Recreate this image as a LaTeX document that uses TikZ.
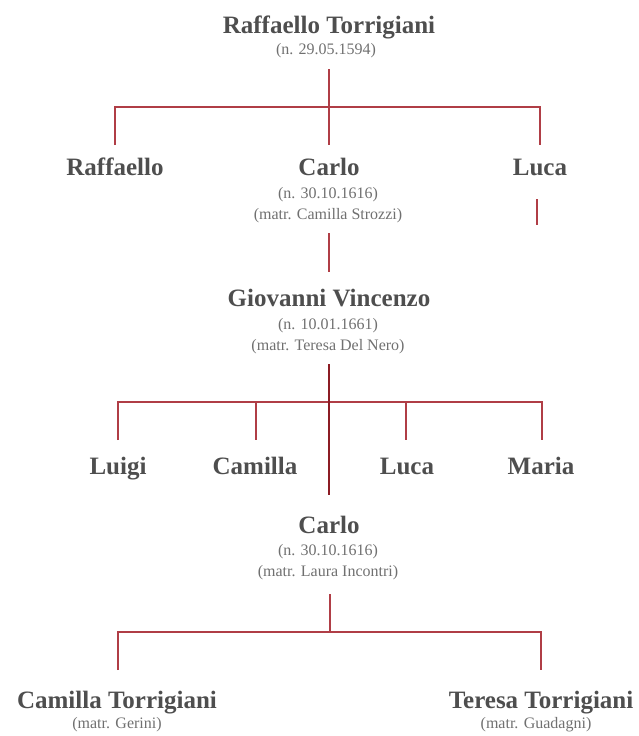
\documentclass[tikz,border=0pt]{standalone}
\usepackage{fontspec}
\setmainfont{Liberation Serif}
\usepackage{xcolor}
\usepackage{tikz}
\usetikzlibrary{positioning}

\definecolor{txtgray}{RGB}{78,78,78}
\definecolor{subgray}{RGB}{112,112,112}
\definecolor{linkred}{RGB}{176,62,70}
\definecolor{trunkred}{RGB}{140,28,36}

\begin{document}
\begin{tikzpicture}[
      x = 1pt, y = -1pt,
      person/.style = {font = \fontsize{25}{29}\selectfont\bfseries, text = txtgray,
                       anchor = base, inner sep = 0pt},
      info/.style   = {font = \fontsize{16}{19}\selectfont, text = subgray,
                       anchor = base, inner sep = 0pt},
      link/.style   = {draw = linkred, line width = 1.1pt},
      trunk/.style  = {draw = trunkred, line width = 1.1pt}
    ]
  \useasboundingbox (0,0) rectangle (638,736);

  % generation 1 ----------------------------------------------------------
  \node[person] (raffT) at (329,33) {Raffaello Torrigiani};
  \node[info] (raffTn) at (326,54) {(n. 29.05.1594)};

  \coordinate (g1top) at (329,69);
  \coordinate (g1bar) at (329,107);
  \coordinate (g1l)   at (115,107);
  \coordinate (g1r)   at (540,107);
  \coordinate (g1ld)  at (115,145);
  \coordinate (g1md)  at (329,145);
  \coordinate (g1rd)  at (540,145);
  \draw[link] (g1top) -- (g1md);
  \draw[link] (g1ld) -- (g1l) -- (g1r) -- (g1rd);

  % generation 2 ----------------------------------------------------------
  \node[person] (raff) at (115,175) {Raffaello};
  \node[person] (carlo) at (329,175) {Carlo};
    \node[info] (carlon) at (328,198) {(n. 30.10.1616)};
    \node[info] (carlom) at (328,219) {(matr. Camilla Strozzi)};
  \node[person] (luca) at (540,175) {Luca};

  \coordinate (lucatop) at (537,199);
  \coordinate (lucabot) at (537,225);
  \draw[link] (lucatop) -- (lucabot);

  \coordinate (g2top) at (329,233);
  \coordinate (g2bot) at (329,272);
  \draw[link] (g2top) -- (g2bot);

  % generation 3 ----------------------------------------------------------
  \node[person] (giov) at (329,306) {Giovanni Vincenzo};
    \node[info] (giovn) at (328,329) {(n. 10.01.1661)};
    \node[info] (giovm) at (328,350) {(matr. Teresa Del Nero)};

  \coordinate (g3l)  at (118,402);
  \coordinate (g3r)  at (542,402);
  \coordinate (g3ld) at (118,440);
  \coordinate (g3a)  at (256,402);
  \coordinate (g3ad) at (256,440);
  \coordinate (g3b)  at (406,402);
  \coordinate (g3bd) at (406,440);
  \coordinate (g3rd) at (542,440);
  \draw[link] (g3ld) -- (g3l) -- (g3r) -- (g3rd);
  \draw[link] (g3a) -- (g3ad);
  \draw[link] (g3b) -- (g3bd);

  \coordinate (g3top) at (329,364);
  \coordinate (g3bot) at (329,495);
  \draw[trunk] (g3top) -- (g3bot);

  % generation 4 ----------------------------------------------------------
  \node[person] (luigi) at (118,474) {Luigi};
  \node[person] (cam)   at (255,474) {Camilla};
  \node[person] (luca2) at (407,474) {Luca};
  \node[person] (maria) at (541,474) {Maria};

  \node[person] (carlo2) at (329,533) {Carlo};
    \node[info] (carlo2n) at (328,555) {(n. 30.10.1616)};
    \node[info] (carlo2m) at (328,576) {(matr. Laura Incontri)};

  \coordinate (g4top) at (330,594);
  \coordinate (g4bar) at (330,632);
  \coordinate (g4l)   at (118,632);
  \coordinate (g4r)   at (541,632);
  \coordinate (g4ld)  at (118,670);
  \coordinate (g4rd)  at (541,670);
  \draw[link] (g4top) -- (g4bar);
  \draw[link] (g4ld) -- (g4l) -- (g4r) -- (g4rd);

  % generation 5 ----------------------------------------------------------
  \node[person] (camT) at (117,708) {Camilla Torrigiani};
    \node[info] (camTm) at (117,728) {(matr. Gerini)};
  \node[person] (terT) at (541,708) {Teresa Torrigiani};
    \node[info] (terTm) at (536,728) {(matr. Guadagni)};

\end{tikzpicture}
\end{document}
